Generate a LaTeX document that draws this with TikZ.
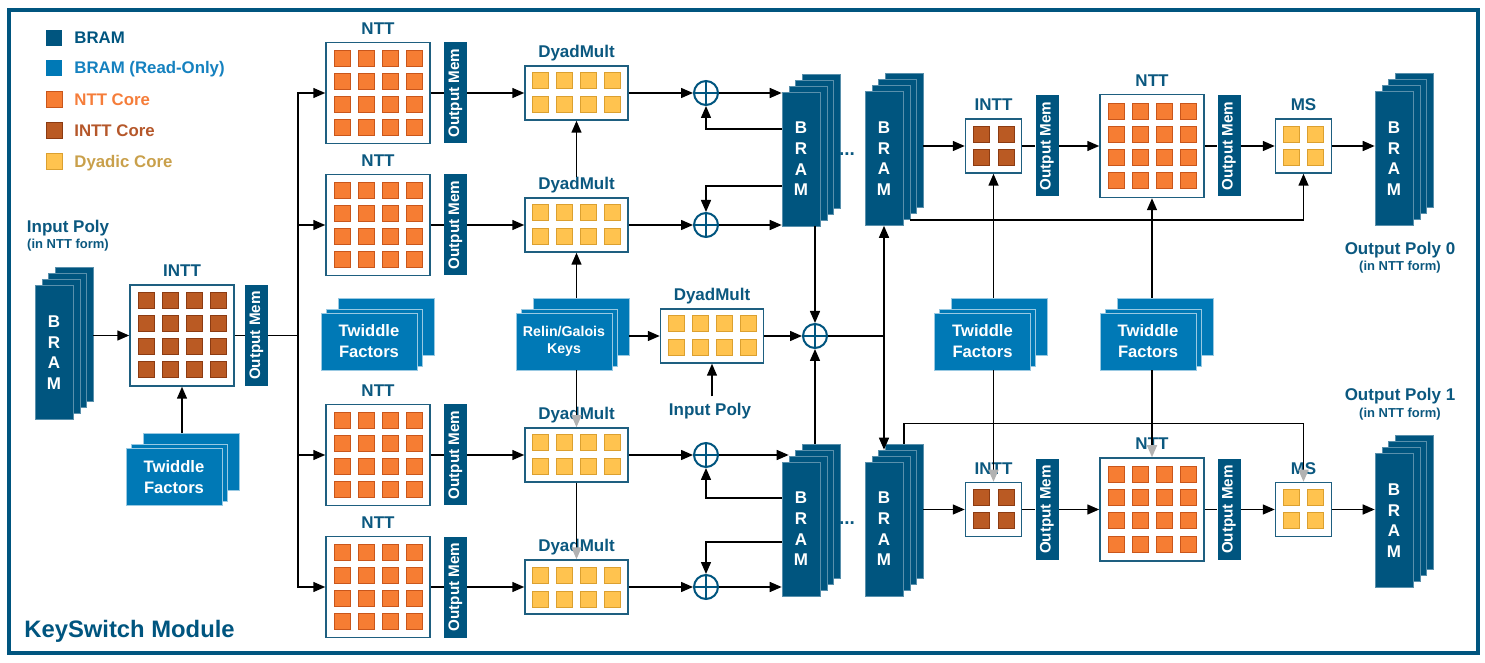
\documentclass[tikz,border=0pt]{standalone}
\usepackage{fontspec}
\setmainfont{Liberation Sans}
\usetikzlibrary{arrows.meta,positioning,calc}

\definecolor{bramdark}{HTML}{00557F}
\definecolor{bramro}{HTML}{0079B6}
\definecolor{nttfill}{HTML}{F67D33}
\definecolor{nttdraw}{HTML}{C9561B}
\definecolor{inttfill}{HTML}{BA5A23}
\definecolor{inttdraw}{HTML}{8C3B12}
\definecolor{dyadfill}{HTML}{FFC34F}
\definecolor{dyaddraw}{HTML}{DBA030}
\definecolor{lblblue}{HTML}{0B587F}
\definecolor{boxdraw}{HTML}{1E5F80}
\definecolor{legro}{HTML}{1581BF}
\definecolor{legntt}{HTML}{F57D3A}
\definecolor{legintt}{HTML}{B5572A}
\definecolor{legdyad}{HTML}{C9A04B}

% stacked memories: name, x, y (front layer centre)
\newcommand\bramstack[3]{%
  \node[bramlayer] (#1c) at ($(#2,#3)+(20,-18)$) {};
  \node[bramlayer] (#1b) at ($(#2,#3)+(13,-12)$) {};
  \node[bramlayer] (#1a) at ($(#2,#3)+(7,-6)$) {};
  \node[bramlayer, bramtext] (#1) at (#2,#3) {B\\R\\A\\M};
}
% read-only stacks: name, text style, x, y, text
\newcommand\docstack[5]{%
  \node[doclayer] (#1c) at ($(#3,#4)+(17,-15)$) {};
  \node[doclayer] (#1b) at ($(#3,#4)+(5,-4)$) {};
  \node[doclayer, #2] (#1) at (#3,#4) {#5};
}
% cores inside a box: node, cols, rows, pitch x, pitch y, style
\newcommand\coregrid[6]{%
  \foreach \i in {1,...,#2}
    \foreach \j in {1,...,#3}
      \node[#6] (#1-\i-\j) at ($(#1.center)+({(\i-(#2+1)/2)*#4},{(\j-(#3+1)/2)*#5})$) {};
}

\begin{document}
\begin{tikzpicture}[
  x=0.5pt, y=-0.5pt,
  box/.style={draw=boxdraw, line width=0.75pt, fill=white, inner sep=0},
  bigbox/.style={box, minimum width=52pt, minimum height=50.5pt},
  dyadbox/.style={box, minimum width=51.5pt, minimum height=27pt},
  smallbox/.style={box, minimum width=28pt, minimum height=27pt},
  core/.style={minimum size=8pt, inner sep=0, line width=0.5pt},
  nttcore/.style={core, fill=nttfill, draw=nttdraw},
  inttcore/.style={core, fill=inttfill, draw=inttdraw},
  dyadcore/.style={core, fill=dyadfill, draw=dyaddraw},
  legsq/.style={minimum size=8pt, inner sep=0},
  omem/.style={fill=bramdark, text=white, minimum width=11.5pt, minimum height=50.5pt,
    inner sep=0, font=\fontsize{7.6}{9}\selectfont\bfseries},
  bramlayer/.style={fill=bramdark, draw=white!35!bramdark, line width=0.3pt,
    minimum width=19pt, minimum height=67pt, inner sep=0},
  bramtext/.style={text=white, align=center, font=\fontsize{8.5}{10.3}\selectfont\bfseries},
  doclayer/.style={fill=bramro, draw=white!60!bramro, line width=0.4pt,
    minimum width=48pt, minimum height=28.5pt, inner sep=0},
  twtext/.style={text=white, align=center, font=\fontsize{8.3}{10.5}\selectfont\bfseries},
  relintext/.style={text=white, align=center, font=\fontsize{7.1}{8.7}\selectfont\bfseries},
  lbl/.style={text=lblblue, inner sep=0, text depth=0pt, font=\fontsize{8.5}{10}\selectfont\bfseries},
  sublbl/.style={lbl, font=\fontsize{6.5}{8}\selectfont\bfseries},
  legtxt/.style={anchor=base west, inner sep=0, font=\fontsize{8.4}{10}\selectfont\bfseries},
  plus/.style={circle, draw=bramdark, line width=1pt, fill=white, minimum size=12pt, inner sep=0,
    path picture={\draw[bramdark, line width=1pt]
      (path picture bounding box.north) -- (path picture bounding box.south)
      (path picture bounding box.west) -- (path picture bounding box.east);}},
  line/.style={line width=0.75pt},
  arrow/.style={line, -{Triangle[length=6pt,width=5pt]}},
  ghost/.style={line, -{Triangle[length=6pt,width=5pt,color=black!30]}}
]
\useasboundingbox (0,0) rectangle (1485,663);
\draw[bramdark, line width=2pt] (9,10) rectangle (1478,653);

% Legend
\node[legsq, fill=bramdark] (lgbram) at (54,38) {};
\node[legsq, fill=bramro] (lgro) at (54,68) {};
\node[nttcore] (lgntt) at (54,99.5) {};
\node[inttcore] (lgintt) at (54,131) {};
\node[dyadcore] (lgdyad) at (54,162) {};
\node[legtxt, text=bramdark] (lgbramtxt) at (74,44) {BRAM};
\node[legtxt, text=legro] (lgrotxt) at (74,74) {BRAM (Read-Only)};
\node[legtxt, text=legntt] (lgntttxt) at (74,105.5) {NTT Core};
\node[legtxt, text=legintt] (lginttxt) at (74,137) {INTT Core};
\node[legtxt, text=legdyad] (lgdyadtxt) at (74,168) {Dyadic Core};
\node[legtxt, text=bramdark, font=\fontsize{11.9}{14}\selectfont\bfseries] (title) at (24,637) {KeySwitch Module};

% Input side
\node[lbl] (inpoly) at (68,226) {Input Poly};
\node[sublbl] (inpolyf) at (68,244) {(in NTT form)};
\bramstack{bram0}{54}{352.5}
\node[bigbox] (intt0) at (182,335.5) {};
\coregrid{intt0}{4}{4}{24}{23}{inttcore}
\node[lbl, above=3.5pt of intt0] (intt0lbl) {INTT};
\node[omem] (omem0) at (256.5,335.5) {\rotatebox{90}{Output Mem}};
\docstack{tw1}{twtext}{174}{477}{Twiddle\\Factors}
\docstack{tw2}{twtext}{369}{341.5}{Twiddle\\Factors}

% NTT rows
\foreach \k/\y in {1/93, 2/225, 3/455, 4/587} {
  \node[bigbox] (ntt\k) at (378,\y) {};
  \coregrid{ntt\k}{4}{4}{24}{23}{nttcore}
  \node[lbl, above=3.5pt of ntt\k] (ntt\k lbl) {NTT};
  \node[omem] (omem\k) at (455.5,\y) {\rotatebox{90}{Output Mem}};
  \node[dyadbox] (dm\k) at (576.5,\y) {};
  \coregrid{dm\k}{4}{2}{24}{24}{dyadcore}
  \node[lbl, above=3.5pt of dm\k] (dm\k lbl) {DyadMult};
  \node[plus] (plus\k) at (706,\y) {};
}

% Keys and middle product
\docstack{relin}{relintext}{564}{341.5}{Relin/Galois\\Keys}
\node[dyadbox] (dmM) at (712,336) {};
\coregrid{dmM}{4}{2}{24}{24}{dyadcore}
\node[lbl, above=3.5pt of dmM] (dmMlbl) {DyadMult};
\node[lbl] (inpoly2) at (710,409) {Input Poly};
\node[plus] (plusM) at (815,336) {};

% Accumulator memories
\bramstack{bram1}{801}{159}
\bramstack{bram2}{884}{158.5}
\bramstack{bram3}{801}{529}
\bramstack{bram4}{884}{529}
\node[lbl, font=\fontsize{9.5}{9}\selectfont\bfseries] (dots1) at (847,154) {...};
\node[lbl, font=\fontsize{9.5}{9}\selectfont\bfseries] (dots2) at (847,523) {...};

% Output side
\docstack{tw3}{twtext}{982.5}{341.5}{Twiddle\\Factors}
\docstack{tw4}{twtext}{1148}{341.5}{Twiddle\\Factors}
\foreach \k/\y in {1/146, 2/509.5} {
  \node[smallbox] (rintt\k) at (993.5,\y) {};
  \coregrid{rintt\k}{2}{2}{25}{23}{inttcore}
  \node[lbl, above=3.5pt of rintt\k] (rintt\k lbl) {INTT};
  \node[omem] (romem\k) at (1047,\y) {\rotatebox{90}{Output Mem}};
  \node[bigbox, minimum height=51.5pt] (rntt\k) at (1152,\y) {};
  \coregrid{rntt\k}{4}{4}{24}{23}{nttcore}
  \node[lbl, above=3.5pt of rntt\k] (rntt\k lbl) {NTT};
  \node[omem] (romem\k b) at (1229,\y) {\rotatebox{90}{Output Mem}};
  \node[smallbox] (rms\k) at (1303.5,\y) {};
  \coregrid{rms\k}{2}{2}{24}{23}{dyadcore}
  \node[lbl, above=3.5pt of rms\k] (rms\k lbl) {MS};
}
\bramstack{obram1}{1394}{158.5}
\bramstack{obram2}{1394}{520.5}
\node[lbl] (outp0) at (1400,248) {Output Poly 0};
\node[sublbl] (outp0f) at (1400,266) {(in NTT form)};
\node[lbl] (outp1) at (1400,394) {Output Poly 1};
\node[sublbl] (outp1f) at (1400,413) {(in NTT form)};

% Connectors: input side
\coordinate (jn) at (298,336);
\draw[arrow] (intt0.west -| bram0c.east) -- (intt0.west);
\draw[line] (intt0.east) -- (omem0.west);
\draw[line] (omem0.east) -- (omem0.east -| jn);
\draw[arrow] (intt0.south |- tw1c.north) -- (intt0.south);
\foreach \k in {1,...,4} {
  \draw[arrow] (jn) |- (ntt\k.west);
  \draw[line] (ntt\k.east) -- (omem\k.west);
  \draw[arrow] (omem\k.east) -- (dm\k.west);
  \draw[arrow] (dm\k.east) -- (plus\k.west);
}

% Connectors: keys and accumulation
\draw[arrow] (dm2lbl.north) -- (dm1.south);
\draw[arrow] (dm2.south |- relinc.north) -- (dm2.south);
\draw[ghost] (dm3.north |- relin.south) -- (dm3.north);
\draw[ghost] (dm3.south) -- (dm4.north);
\draw[arrow] (dmM.west -| relinc.east) -- (dmM.west);
\draw[arrow] (dmM.east) -- (plusM.west);
\draw[arrow, shorten <=3pt] (dmM.south |- inpoly2.north) -- (dmM.south);

\draw[arrow] (plus1.east) -- (plus1.east -| bram1.west);
\draw[arrow] (plus2.east) -- (plus2.east -| bram1.west);
\draw[arrow] (plus3.east) -- (plus3.east -| bram3a.west);
\draw[arrow] (plus4.east) -- (plus4.east -| bram3.west);
\draw[arrow] ($(bram1.west)+(0,-30)$) -| (plus1.south);
\draw[arrow] ($(bram1.west)+(0,27)$) -| (plus2.north);
\draw[arrow] ($(bram3.west)+(0,-31)$) -| (plus3.south);
\draw[arrow] ($(bram3.west)+(0,13)$) -| (plus4.north);

\coordinate (jm) at (884,336);
\draw[arrow] (plusM.north |- bram1.south) -- (plusM.north);
\draw[arrow] (plusM.south |- bram3c.north) -- (plusM.south);
\draw[line] (plusM.east) -- (jm);
\draw[arrow] (jm) -- (jm |- bram2.south);
\draw[arrow] (jm) -- (jm |- bram4b.north);

% Connectors: output side
\draw[arrow] (rintt1.west -| bram2c.east) -- (rintt1.west);
\draw[arrow] (rintt2.west -| bram4c.east) -- (rintt2.west);
\foreach \k in {1,2} {
  \draw[line] (rintt\k.east) -- (romem\k.west);
  \draw[arrow] (romem\k.east) -- (rntt\k.west);
  \draw[line] (rntt\k.east) -- (romem\k b.west);
  \draw[arrow] (romem\k b.east) -- (rms\k.west);
  \draw[arrow] (rms\k.east) -- (rms\k.east -| obram\k.west);
}
\draw[arrow] (bram2a.south east) -| (rms1.south);
\draw[ghost] (bram4c.north) -- ++(0,-20) -| (rms2.north);
\draw[arrow] (rintt1.south |- tw3c.north) -- (rintt1.south);
\draw[ghost] (rintt2.north |- tw3.south) -- (rintt2.north);
\draw[arrow] (rntt1.south |- tw4c.north) -- (rntt1.south);
\draw[ghost] (rntt2.north |- tw4.south) -- (rntt2.north);

\end{tikzpicture}
\end{document}
